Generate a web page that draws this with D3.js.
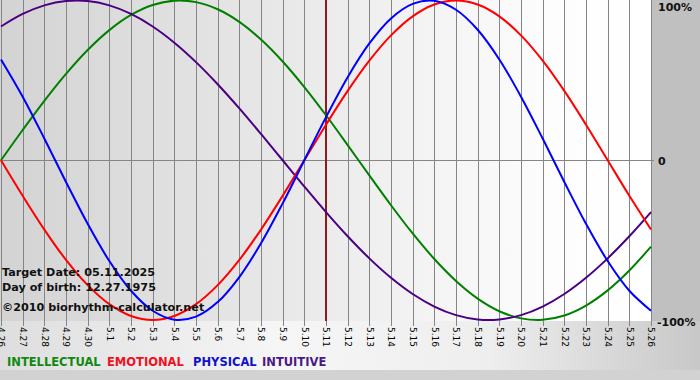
<!DOCTYPE html>
<html><head><meta charset="utf-8">
<script src="https://cdn.jsdelivr.net/npm/d3@7"></script>
<style>html,body{margin:0;padding:0;background:#c4c4c4;}svg{display:block;}</style>
</head><body>
<svg id="c" width="700" height="380"></svg>
<script>
const days = ["4.26","4.27","4.28","4.29","4.30","5.1","5.2","5.3","5.4","5.5","5.6","5.7","5.8","5.9","5.10","5.11","5.12","5.13","5.14","5.15","5.16","5.17","5.18","5.19","5.20","5.21","5.22","5.23","5.24","5.25","5.26"];
const targetDay = "5.11";
const physical = [0.631,0.398,0.136,-0.136,-0.398,-0.631,-0.817,-0.942,-0.998,-0.979,-0.888,-0.731,-0.520,-0.270,0,0.270,0.520,0.731,0.888,0.979,0.998,0.942,0.817,0.631,0.398,0.136,-0.136,-0.398,-0.631,-0.817,-0.942];
const emotional = [0,-0.2225,-0.4339,-0.6235,-0.7818,-0.9010,-0.9749,-1.0,-0.9749,-0.9010,-0.7818,-0.6235,-0.4339,-0.2225,0,0.2225,0.4339,0.6235,0.7818,0.9010,0.9749,1.0,0.9749,0.9010,0.7818,0.6235,0.4339,0.2225,0,-0.2225,-0.4339];
const intellectual = [0,0.1893,0.3717,0.5406,0.6901,0.8146,0.9096,0.9718,0.9989,0.9898,0.9450,0.8660,0.7557,0.6182,0.4582,0.2817,0.0951,-0.0951,-0.2817,-0.4582,-0.6182,-0.7557,-0.8660,-0.9450,-0.9898,-0.9989,-0.9718,-0.9096,-0.8146,-0.6901,-0.5406];
const intuitive = [0.8372,0.9157,0.9694,0.9966,0.9966,0.9694,0.9157,0.8372,0.7357,0.6142,0.4759,0.3247,0.1646,0,-0.1646,-0.3247,-0.4759,-0.6142,-0.7357,-0.8372,-0.9157,-0.9694,-0.9966,-0.9966,-0.9694,-0.9157,-0.8372,-0.7357,-0.6142,-0.4759,-0.3247];
const yTicks = [1, 0, -1];
const yTickLabels = ["100%", "0", "-100%"];
const infoLines = ["Target Date: 05.11.2025", "Day of birth: 12.27.1975", "\u00a92010 biorhythm-calculator.net"];
const legendNames = ["INTELLECTUAL", "EMOTIONAL", "PHYSICAL", "INTUITIVE"];

const series = [
  {name:"INTELLECTUAL", values: intellectual, color:"#008000"},
  {name:"EMOTIONAL", values: emotional, color:"#ff0000"},
  {name:"PHYSICAL", values: physical, color:"#0000ff"},
  {name:"INTUITIVE", values: intuitive, color:"#4b0082"}
];
const legendColors = {"INTELLECTUAL":"#118811","EMOTIONAL":"#ee1122","PHYSICAL":"#1111cc","INTUITIVE":"#4b1888"};

const svg = d3.select("#c");
const W = 700, H = 380;
const plotL = 0, plotR = 651, plotT = 0, plotB = 321;

const x = d3.scalePoint().domain(days).range([1, 651]);
const y = d3.scaleLinear().domain([-1, 1]).range([320, 0.5]);

const defs = svg.append("defs");
const g1 = defs.append("linearGradient").attr("id","plotbg").attr("x1","0").attr("x2","1").attr("y1","0").attr("y2","0");
g1.append("stop").attr("offset","0").attr("stop-color","#d3d3d3");
g1.append("stop").attr("offset","0.85").attr("stop-color","#fdfdfd");
g1.append("stop").attr("offset","1").attr("stop-color","#ffffff");
const g2 = defs.append("linearGradient").attr("id","botbg").attr("x1","0").attr("x2","1").attr("y1","0").attr("y2","0");
g2.append("stop").attr("offset","0").attr("stop-color","#dedede");
g2.append("stop").attr("offset","0.4").attr("stop-color","#f6f6f6");
g2.append("stop").attr("offset","0.7").attr("stop-color","#eeeeee");
g2.append("stop").attr("offset","1").attr("stop-color","#c8c8c8");

svg.append("rect").attr("width",W).attr("height",H).attr("fill","#c6c6c6");
svg.append("rect").attr("x",0).attr("y",plotB).attr("width",W).attr("height",50).attr("fill","url(#botbg)");
svg.append("rect").attr("x",0).attr("y",370).attr("width",W).attr("height",10).attr("fill","#d2d2d2");
svg.append("rect").attr("x",plotL).attr("y",plotT).attr("width",plotR-plotL).attr("height",plotB-plotT).attr("fill","url(#plotbg)");
svg.append("rect").attr("x",plotR).attr("y",0).attr("width",W-plotR).attr("height",plotB).attr("fill","#c0c0c0");

// vertical grid + ticks via axis
const xAxis = d3.axisBottom(x).tickSize(plotB + 5).tickFormat(d => d);
const xg = svg.append("g").attr("transform","translate(0,0)").call(xAxis);
xg.select(".domain").remove();
xg.selectAll(".tick line").attr("stroke","#858585").attr("stroke-width",1).attr("shape-rendering","crispEdges");
xg.selectAll(".tick text")
  .attr("transform", `translate(0,${plotB+6}) rotate(90)`)
  .attr("x", 0).attr("y", 0).attr("dy","0.35em")
  .attr("text-anchor","start")
  .attr("font-family","DejaVu Sans, Verdana, sans-serif")
  .attr("font-size","9px").attr("fill","#000");

// zero line
svg.append("line").attr("x1",0).attr("x2",plotR+3).attr("y1",y(0)).attr("y2",y(0))
  .attr("stroke","#858585").attr("stroke-width",1).attr("shape-rendering","crispEdges");

// y labels
svg.selectAll(".ylab").data(yTicks).enter().append("text")
  .attr("x", (d,i) => i===2 ? 657 : 658)
  .attr("y", (d,i) => i===0 ? 11 : (i===1 ? 165 : 326))
  .attr("font-family","DejaVu Sans, Verdana, sans-serif")
  .attr("font-weight","bold").attr("font-size","11px").attr("fill","#111")
  .text((d,i) => yTickLabels[i]);

// target line
svg.append("line").attr("x1",x(targetDay)).attr("x2",x(targetDay)).attr("y1",0).attr("y2",plotB)
  .attr("stroke","#8a1c1c").attr("stroke-width",2);

// curves
const line = d3.line().x((d,i) => x(days[i])).y(d => y(d)).curve(d3.curveCatmullRom.alpha(0.5));
const clip = defs.append("clipPath").attr("id","pc").append("rect").attr("x",0).attr("y",0).attr("width",plotR+1).attr("height",plotB);
const order = ["INTELLECTUAL","INTUITIVE","EMOTIONAL","PHYSICAL"];
svg.append("g").attr("clip-path","url(#pc)").selectAll("path").data(order.map(n => series.find(s => s.name===n))).enter().append("path")
  .attr("d", s => line(s.values)).attr("fill","none").attr("stroke", s => s.color).attr("stroke-width",2);

// info text
svg.selectAll(".info").data(infoLines).enter().append("text")
  .attr("x",2).attr("y",(d,i) => [276, 291, 311][i])
  .attr("font-family","DejaVu Sans, Verdana, sans-serif")
  .attr("font-weight","bold").attr("font-size","11.2px").attr("fill","#111")
  .text(d => d);

// legend
const legX = [7, 107, 193, 262];
svg.selectAll(".leg").data(legendNames).enter().append("text")
  .attr("x",(d,i) => legX[i]).attr("y",366)
  .attr("font-family","DejaVu Sans, Verdana, sans-serif")
  .attr("font-weight","bold").attr("font-size","11.5px")
  .attr("fill", d => legendColors[d])
  .text(d => d);
</script>
</body></html>
